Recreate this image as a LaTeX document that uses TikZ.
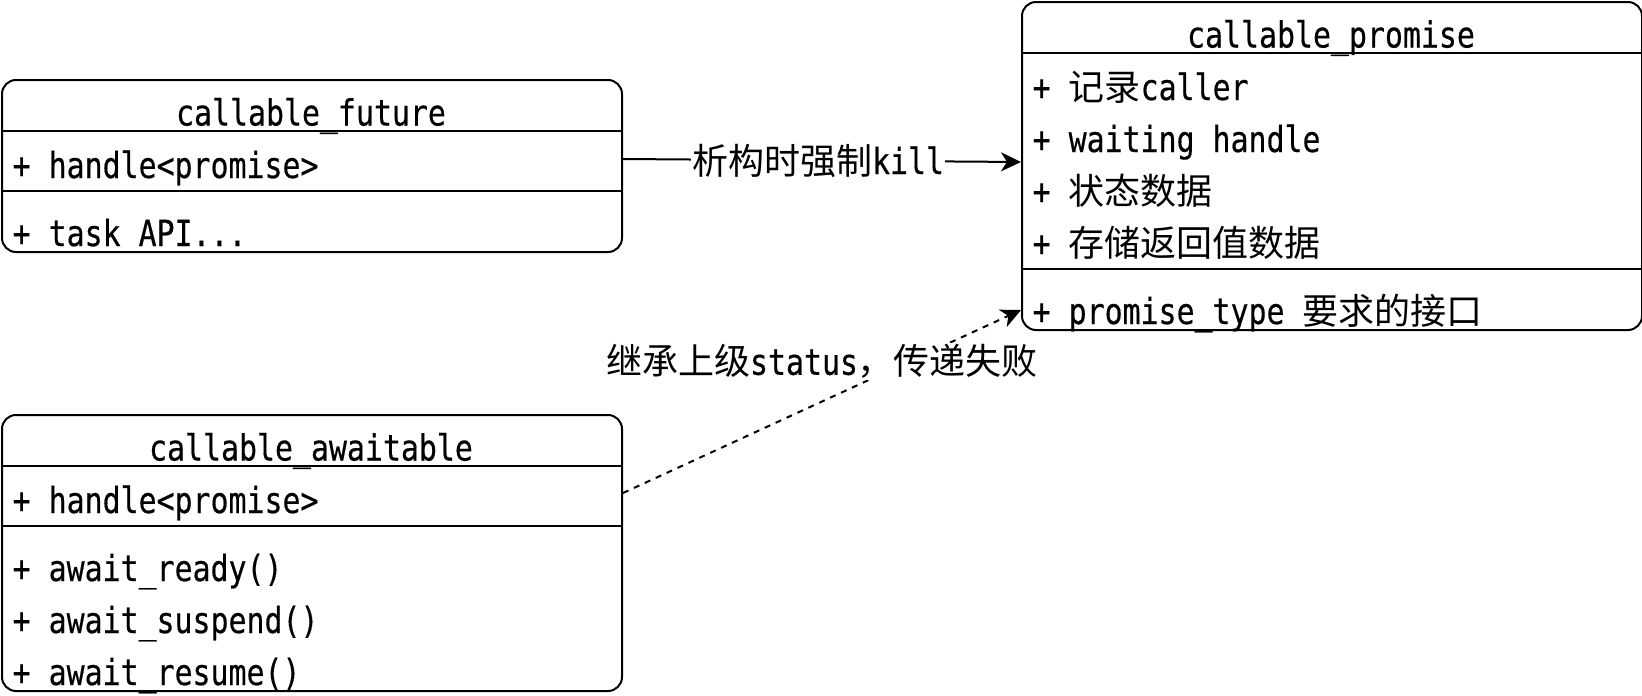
\documentclass[tikz,border=0pt]{standalone}
\usepackage{fontspec}
\setmainfont{DejaVu Sans Mono}[FakeStretch=0.83,FakeBold=0.4]
\newfontfamily\cjk{Noto Sans CJK SC}
\usetikzlibrary{arrows.meta}
\begin{document}
\begin{tikzpicture}[x=1pt,y=-1pt,
  classbox/.style={draw, line width=2pt, rounded corners=14pt, inner sep=0pt, anchor=north west, minimum width=620pt},
  sepline/.style={line width=2pt},
  txt/.style={anchor=base west, inner sep=0pt, font=\fontsize{36}{43}\selectfont},
  hdr/.style={anchor=base, inner sep=0pt, font=\fontsize{36}{43}\selectfont},
  arr/.style={line width=2pt, -{Stealth[length=20pt,width=19pt,inset=6pt]}},
  lbl/.style={fill=white, inner sep=1pt, font=\fontsize{36}{43}\selectfont}
]
\useasboundingbox (0,0) rectangle (1642,696);

% callable_future
\node[classbox, minimum height=172pt] (future) at (1,79) {};
\draw[sepline] (future.west |- 0,131) -- (future.east |- 0,131);
\draw[sepline] (future.west |- 0,191) -- (future.east |- 0,191);
\node[hdr] (futt) at (311,125.5) {callable\_future};
\node[txt] (futa) at (12.5,178) {+ handle<promise>};
\node[txt] (futm) at (12.5,246) {+ task API...};

% callable_promise
\node[classbox, minimum height=328pt] (promise) at (1021,1) {};
\draw[sepline] (promise.west |- 0,53) -- (promise.east |- 0,53);
\draw[sepline] (promise.west |- 0,269) -- (promise.east |- 0,269);
\node[hdr] (prot) at (1331,47.5) {callable\_promise};
\node[txt] (proa1) at (1032.5,100) {+ {\cjk 记录}caller};
\node[txt] (proa2) at (1032.5,152) {+ waiting handle};
\node[txt] (proa3) at (1032.5,204) {+ {\cjk 状态数据}};
\node[txt] (proa4) at (1032.5,256) {+ {\cjk 存储返回值数据}};
\node[txt] (prom) at (1032.5,324) {+ promise\_type {\cjk 要求的接口}};

% callable_awaitable
\node[classbox, minimum height=276pt] (await) at (1,414) {};
\draw[sepline] (await.west |- 0,466) -- (await.east |- 0,466);
\draw[sepline] (await.west |- 0,526) -- (await.east |- 0,526);
\node[hdr] (awt) at (311,460.5) {callable\_awaitable};
\node[txt] (awa) at (12.5,513) {+ handle<promise>};
\node[txt] (awm1) at (12.5,581) {+ await\_ready()};
\node[txt] (awm2) at (12.5,633) {+ await\_suspend()};
\node[txt] (awm3) at (12.5,685) {+ await\_resume()};

% connectors
\draw[arr] ([yshift=7pt]future.east) -- node[lbl, pos=0.49] (l1) {{\cjk 析构时强制}kill} ([yshift=4pt]promise.west);
\draw[arr, dash pattern=on 6pt off 6pt] ([yshift=60pt]await.east) -- node[lbl, pos=0.5, yshift=40pt] (l2) {{\cjk 继承上级}status{\cjk ，传递失败}} ([yshift=21pt]promise.south west);
\end{tikzpicture}
\end{document}
